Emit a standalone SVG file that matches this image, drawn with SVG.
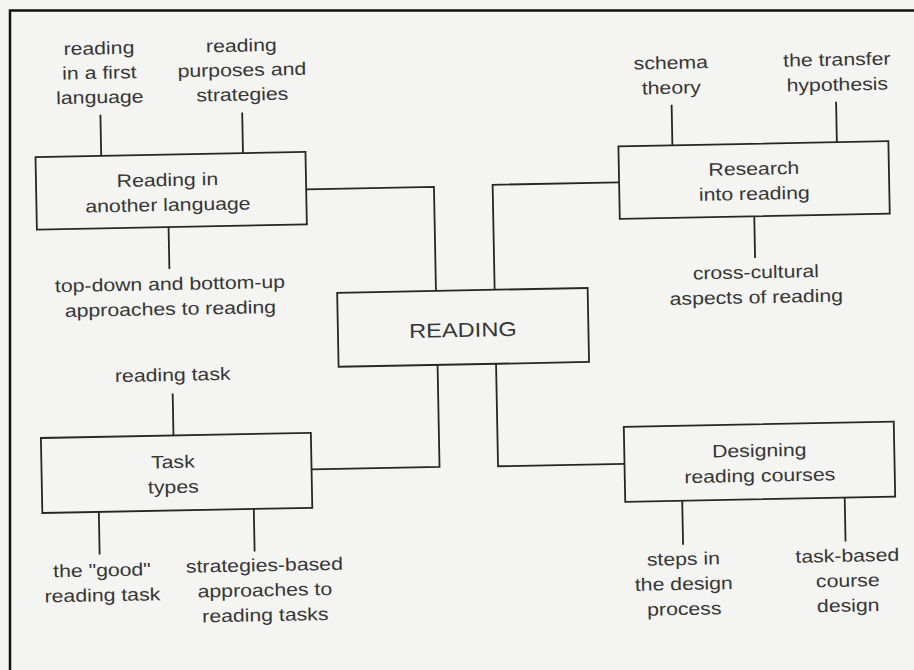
<svg xmlns="http://www.w3.org/2000/svg" width="914" height="670" viewBox="0 0 914 670">
  <style>
    .box { fill: none; stroke: #262626; stroke-width: 1.8; }
    .wire { fill: none; stroke: #262626; stroke-width: 1.8; }
    text { font-family: "Liberation Sans", Arial, Helvetica, sans-serif; font-size: 18px; fill: #363636; text-anchor: middle; }
    .hub text { font-size: 20px; }
  </style>

  <!-- page -->
  <rect width="914" height="670" fill="#f4f4f2"/>
  <path d="M10 670 V10.5 H914" fill="none" stroke="#111" stroke-width="2.5"/>

  <!-- whole chart is set slightly askew on the page -->
  <g transform="rotate(-1.1 457 335)">

    <g id="connectors" class="wire">
      <!-- hub links -->
      <path d="M309 186.5 H436.8 V290.5"/>
      <path d="M622 185.5 H495.5 V290.5"/>
      <path d="M437 364.5 V466.5 H309"/>
      <path d="M495.5 364.5 V467 H622"/>
      <!-- Reading in another language -->
      <path d="M104.7 108 V149"/>
      <path d="M246.5 108.5 V149"/>
      <path d="M170.7 221.5 V263.5"/>
      <!-- Research into reading -->
      <path d="M676 109 V149.5"/>
      <path d="M840.5 109 V149.5"/>
      <path d="M756.5 222 V263.7"/>
      <!-- Task types -->
      <path d="M171.6 388 V430"/>
      <path d="M95.5 505 V547.5"/>
      <path d="M250.5 505 V547.5"/>
      <!-- Designing reading courses -->
      <path d="M679 505 V549"/>
      <path d="M841.5 505 V549"/>
    </g>

    <g id="reading" class="hub">
      <rect class="box" x="338" y="290.5" width="250.5" height="74"/>
      <text transform="translate(463 337) scale(1.18 1)">READING</text>
    </g>

    <g id="reading-another-language">
      <rect class="box" x="39" y="149" width="270" height="72.5"/>
      <text transform="translate(170.5 180.5) scale(1.18 1)"><tspan x="0">Reading in</tspan><tspan x="0" dy="25">another language</tspan></text>
    </g>

    <g id="research-into-reading">
      <rect class="box" x="622" y="149.5" width="270" height="72.5"/>
      <text transform="translate(757 180.5) scale(1.18 1)"><tspan x="0">Research</tspan><tspan x="0" dy="25">into reading</tspan></text>
    </g>

    <g id="task-types">
      <rect class="box" x="39" y="430" width="270" height="75"/>
      <text transform="translate(170.5 462.5) scale(1.18 1)"><tspan x="0">Task</tspan><tspan x="0" dy="25">types</tspan></text>
    </g>

    <g id="designing-reading-courses">
      <rect class="box" x="622" y="430" width="270" height="75"/>
      <text transform="translate(757 462.5) scale(1.18 1)"><tspan x="0">Designing</tspan><tspan x="0" dy="25">reading courses</tspan></text>
    </g>

    <g id="first-language">
      <text transform="translate(104.5 47.5) scale(1.18 1)"><tspan x="0">reading</tspan><tspan x="0" dy="24.5">in a first</tspan><tspan x="0" dy="24.5">language</tspan></text>
    </g>
    <g id="purposes-strategies">
      <text transform="translate(247 47.5) scale(1.18 1)"><tspan x="0">reading</tspan><tspan x="0" dy="24.5">purposes and</tspan><tspan x="0" dy="24.5">strategies</tspan></text>
    </g>
    <g id="top-down-bottom-up">
      <text transform="translate(171 284.5) scale(1.18 1)"><tspan x="0">top-down and bottom-up</tspan><tspan x="0" dy="25">approaches to reading</tspan></text>
    </g>

    <g id="schema-theory">
      <text transform="translate(676 73) scale(1.18 1)"><tspan x="0">schema</tspan><tspan x="0" dy="25">theory</tspan></text>
    </g>
    <g id="transfer-hypothesis">
      <text transform="translate(842 73) scale(1.18 1)"><tspan x="0">the transfer</tspan><tspan x="0" dy="25">hypothesis</tspan></text>
    </g>
    <g id="cross-cultural">
      <text transform="translate(757 284) scale(1.18 1)"><tspan x="0">cross-cultural</tspan><tspan x="0" dy="25">aspects of reading</tspan></text>
    </g>

    <g id="reading-task">
      <text transform="translate(172 375.5) scale(1.18 1)">reading task</text>
    </g>
    <g id="good-reading-task">
      <text transform="translate(97.5 569.5) scale(1.18 1)"><tspan x="0">the "good"</tspan><tspan x="0" dy="25">reading task</tspan></text>
    </g>
    <g id="strategies-based">
      <text transform="translate(260 567.5) scale(1.18 1)"><tspan x="0">strategies-based</tspan><tspan x="0" dy="25">approaches to</tspan><tspan x="0" dy="25">reading tasks</tspan></text>
    </g>

    <g id="design-steps">
      <text transform="translate(679 569.3) scale(1.18 1)"><tspan x="0">steps in</tspan><tspan x="0" dy="25">the design</tspan><tspan x="0" dy="25">process</tspan></text>
    </g>
    <g id="task-based-design">
      <text transform="translate(843 569.2) scale(1.18 1)"><tspan x="0">task-based</tspan><tspan x="0" dy="25">course</tspan><tspan x="0" dy="25">design</tspan></text>
    </g>

  </g>
</svg>
